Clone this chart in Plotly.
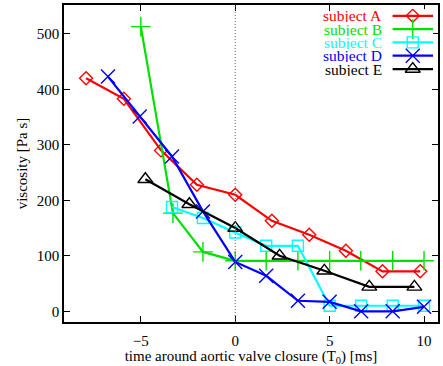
import plotly.graph_objects as go

# Data
xA = [-7.9, -5.9, -3.93, -2.03, 0.0, 1.94, 3.92, 5.86, 7.8, 9.8]
yA = [420, 383, 290, 228, 210, 163, 138, 109, 72, 72]

xB = [-5.0, -3.3, -1.71, 0.0, 1.64, 3.32, 5.0, 6.65, 8.34, 10.0]
yB = [513, 177, 107, 91, 91, 91, 91, 91, 91, 91]

xC = [-3.35, -1.71, 0.0, 1.64, 3.32, 5.0, 6.67, 8.34, 10.0]
yC = [188, 168, 142, 118, 118, 10, 10, 10, 10]

xD = [-6.74, -5.06, -3.35, -1.71, 0.0, 1.64, 3.32, 5.0, 6.67, 8.34, 10.0]
yD = [423, 351, 279, 180, 89, 64, 19, 17, 0, 0, 8]

xE = [-4.76, -2.43, 0.0, 2.35, 4.72, 7.1, 9.49]
yE = [238, 193, 150, 100, 73, 44, 44]

names = ["subject A", "subject B", "subject C", "subject D", "subject E"]
colors = ["#ff0000", "#00e000", "#00ffff", "#0000ff", "#000000"]
symbols = ["diamond-open", "cross-thin-open", "square-open", "x-thin-open", "triangle-up-open"]
msizes = [10, 14, 11, 14, 13]
series = [(xA, yA), (xB, yB), (xC, yC), (xD, yD), (xE, yE)]

xticks = [-5, 0, 5, 10]
yticks = [0, 100, 200, 300, 400, 500]

FONT = "Liberation Serif"

fig = go.Figure()
for (xs, ys), nm, c, s, ms in zip(series, names, colors, symbols, msizes):
    fig.add_trace(go.Scatter(
        x=xs, y=ys, mode="lines+markers", name=nm, showlegend=False,
        line=dict(color=c, width=2.2),
        marker=dict(symbol=s, size=ms, color=c, line=dict(color=c, width=1.4)),
    ))

# gnuplot-style key: label on the left, sample line with marker on the right
n = len(names)
KEY_X = (0.878, 0.987)
KEY_Y = (0.777, 0.987)
row_h = (KEY_Y[1] - KEY_Y[0]) / n
for i, (nm, c, s, ms) in enumerate(zip(names, colors, symbols, msizes)):
    row = n - 1 - i
    fig.add_trace(go.Scatter(
        x=[0, 1], y=[row, row], xaxis="x2", yaxis="y2",
        mode="lines", showlegend=False, hoverinfo="skip",
        line=dict(color=c, width=2.2),
    ))
    fig.add_trace(go.Scatter(
        x=[0.5], y=[row], xaxis="x2", yaxis="y2",
        mode="markers", showlegend=False, hoverinfo="skip",
        marker=dict(symbol=s, size=ms, color=c, line=dict(color=c, width=1.4)),
    ))
    fig.add_annotation(x=KEY_X[0] - 0.022, y=KEY_Y[0] + (row + 0.5) * row_h,
                       xref="paper", yref="paper",
                       text=nm, showarrow=False, xanchor="right", yanchor="middle",
                       height=13, valign="middle",
                       font=dict(family=FONT, size=15.5, color=c))

fig.add_vline(x=0, line=dict(color="#666666", width=1, dash="1px,2px"))

fig.update_layout(
    width=443, height=366,
    margin=dict(l=64, r=5, t=5, b=44, autoexpand=False),
    paper_bgcolor="white", plot_bgcolor="white",
    font=dict(family=FONT, size=15, color="black"),
    showlegend=False,
    xaxis=dict(range=[-9.07, 10.74], tickvals=xticks,
               ticktext=["\u22125", "0", "5", "10"],
               ticks="inside", ticklen=6, tickcolor="black", ticklabelstandoff=4,
               showline=True, linecolor="black", linewidth=1.5, mirror="ticks",
               showgrid=False, zeroline=False, automargin=False,
               title=dict(text="time around aortic valve closure (T<sub>0</sub>) [ms]",
                          font=dict(size=15), standoff=5)),
    yaxis=dict(range=[-19.3, 552], tickvals=yticks,
               ticks="inside", ticklen=6, tickcolor="black",
               showline=True, linecolor="black", linewidth=1.5, mirror="ticks",
               showgrid=False, zeroline=False, automargin=False,
               title=dict(text="viscosity [Pa s]", font=dict(size=15), standoff=6)),
    xaxis2=dict(domain=list(KEY_X), range=[0, 1], anchor="y2",
                visible=False, fixedrange=True),
    yaxis2=dict(domain=list(KEY_Y), range=[-0.5, n - 0.5], anchor="x2",
                visible=False, fixedrange=True),
)

fig.write_html("out.html")
